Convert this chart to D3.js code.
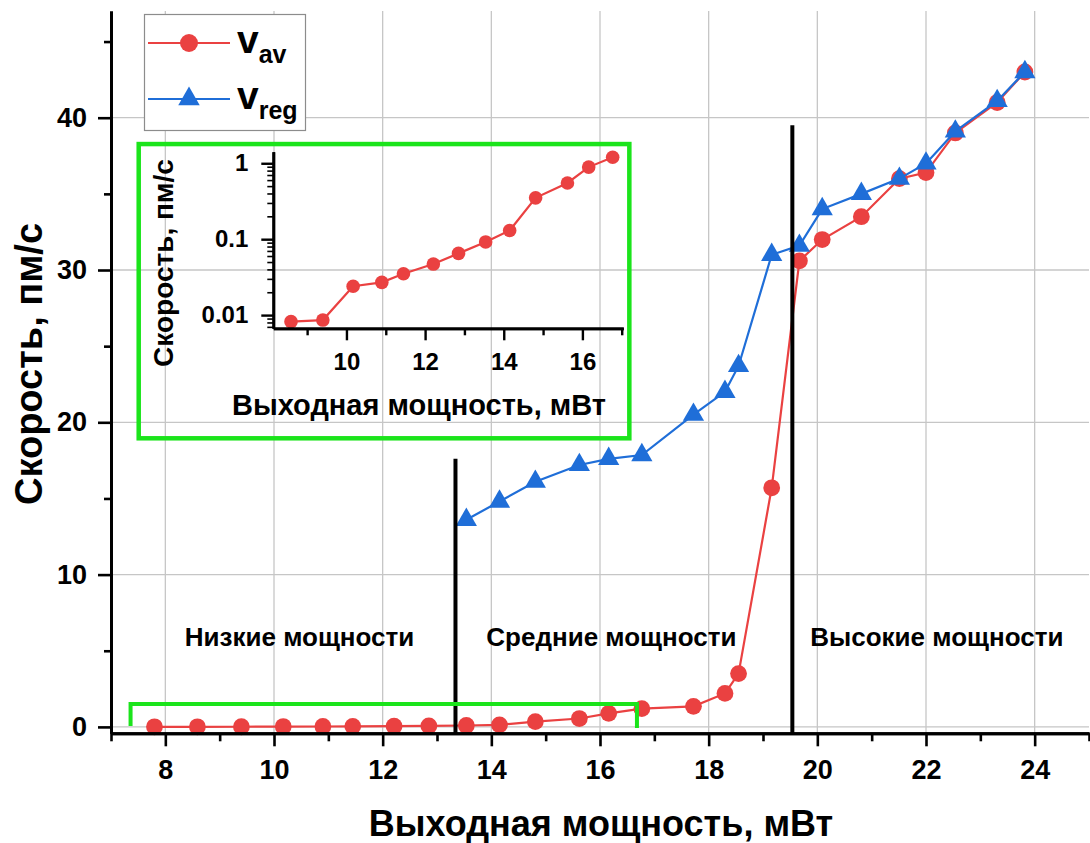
<!DOCTYPE html>
<html>
<head>
<meta charset="utf-8">
<script src="https://cdn.jsdelivr.net/npm/d3@7/dist/d3.min.js"></script>
<style>
  body { margin: 0; background: #fff; }
  svg { display: block; }
  text { font-family: "Liberation Sans", Arial, Helvetica, sans-serif; font-weight: bold; fill: #000; }
</style>
</head>
<body>
<svg id="chart" width="1090" height="843"></svg>
<script>
// ---- data ----------------------------------------------------------------
// average velocity v_av (pm/s) versus output power (mW)
const powerAv = [7.80, 8.59, 9.40, 10.17, 10.90, 11.45, 12.21, 12.85, 13.54, 14.15, 14.81, 15.62, 16.16, 16.77,
                 17.72, 18.30, 18.55, 19.16, 19.67, 20.09, 20.81, 21.51, 22.00, 22.54, 23.31, 23.82];
const vAv     = [0.006, 0.0082, 0.0086, 0.024, 0.027, 0.035, 0.047, 0.065, 0.092, 0.13, 0.35, 0.55, 0.89, 1.20,
                 1.35, 2.2, 3.5, 15.7, 30.6, 32.0, 33.5, 36.0, 36.4, 39.0, 41.0, 43.0];
// regular-motion velocity v_reg (pm/s)
const powerReg = [13.54, 14.15, 14.81, 15.62, 16.16, 16.77, 17.72, 18.30, 18.55, 19.16, 19.67, 20.09, 20.81,
                  21.51, 22.00, 22.54, 23.31, 23.82];
const vReg     = [13.6, 14.8, 16.1, 17.2, 17.6, 17.85, 20.5, 22.0, 23.7, 31.0, 31.6, 34.0, 35.0,
                  36.0, 37.0, 39.1, 41.1, 43.0];

// power-regime boundaries (mW) and where each marker line ends (pm/s)
const regimeBounds = [13.34, 19.54];
const boundTops    = [17.6, 39.5];
const regimeNames  = ["Низкие мощности", "Средние мощности", "Высокие мощности"];

// ticks
const xMajor = [8, 10, 12, 14, 16, 18, 20, 22, 24];
const xMinor = [7, 9, 11, 13, 15, 17, 19, 21, 23, 25];
const yMajor = [0, 10, 20, 30, 40];
const yMinor = [5, 15, 25, 35, 45];
const insetXMajor = [10, 12, 14, 16];
const insetXMinor = [9, 11, 13, 15, 17];
const insetYMajor = [0.01, 0.1, 1];
const insetYMinor = [0.007, 0.008, 0.009,
                     0.02, 0.03, 0.04, 0.05, 0.06, 0.07, 0.08, 0.09,
                     0.2, 0.3, 0.4, 0.5, 0.6, 0.7, 0.8, 0.9];
// points 1..13 of v_av are replotted on a log scale in the inset
const insetRange = [1, 14];

const xTitle = "Выходная мощность, мВт";
const yTitle = "Скорость, пм/с";

// ---- styling ---------------------------------------------------------------
const RED = "#ea4141", BLUE = "#1f6ed8", GREEN = "#1be41b", GRID = "#c6c6c6";

const svg = d3.select("#chart");

const x = d3.scaleLinear().domain([7, 25]).range([111, 1089]);
const y = d3.scaleLinear().domain([-0.42, 47]).range([733.3, 11.1]);

// ---- grid ----------------------------------------------------------------
const grid = svg.append("g").attr("stroke", GRID).attr("stroke-width", 1.3);
grid.selectAll("line.v").data(xMajor).join("line")
  .attr("x1", d => x(d)).attr("x2", d => x(d))
  .attr("y1", y.range()[1]).attr("y2", y.range()[0]);
grid.selectAll("line.h").data(yMajor).join("line")
  .attr("y1", d => y(d)).attr("y2", d => y(d))
  .attr("x1", x.range()[0]).attr("x2", x.range()[1]);

// ---- series ----------------------------------------------------------------
const avData  = powerAv.map((p, i) => ({ p, v: vAv[i] }));
const regData = powerReg.map((p, i) => ({ p, v: vReg[i] }));

const line = d3.line().x(d => x(d.p)).y(d => y(d.v));

svg.append("path").datum(avData)
  .attr("d", line).attr("fill", "none").attr("stroke", RED).attr("stroke-width", 2.2);
svg.append("g").selectAll("circle").data(avData).join("circle")
  .attr("cx", d => x(d.p)).attr("cy", d => y(d.v)).attr("r", 8.4).attr("fill", RED);

const tri = d3.symbol().type(d3.symbolTriangle).size(195);
svg.append("path").datum(regData)
  .attr("d", line).attr("fill", "none").attr("stroke", BLUE).attr("stroke-width", 2.2);
svg.append("g").selectAll("path").data(regData).join("path")
  .attr("transform", d => `translate(${x(d.p)},${y(d.v)})`)
  .attr("d", tri).attr("fill", BLUE);

// ---- regime boundaries -----------------------------------------------------
svg.append("g").selectAll("line").data(regimeBounds).join("line")
  .attr("x1", d => x(d)).attr("x2", d => x(d))
  .attr("y1", (d, i) => y(boundTops[i])).attr("y2", y.range()[0])
  .attr("stroke", "#000").attr("stroke-width", 4);

// region captions, centred in power units
const captionX = [10.47, 16.21, 22.2];
svg.append("g").selectAll("text").data(regimeNames).join("text")
  .attr("x", (d, i) => x(captionX[i])).attr("y", 646)
  .attr("text-anchor", "middle").attr("font-size", 26)
  .text(d => d);

// ---- highlight frames -------------------------------------------------------
// small bracket around the low-velocity points
const bx0 = x(7.36), bx1 = x(16.68), by0 = y(1.5), by1 = y(0);
svg.append("path")
  .attr("d", `M${bx0},${by1 - 1}V${by0}H${bx1}V${by1 + 1}`)
  .attr("fill", "none").attr("stroke", GREEN).attr("stroke-width", 4);
// frame of the inset
svg.append("rect")
  .attr("x", x(7.51)).attr("y", y(38.27))
  .attr("width", x(16.54) - x(7.51)).attr("height", y(18.95) - y(38.27))
  .attr("fill", "none").attr("stroke", GREEN).attr("stroke-width", 4.5);

// ---- main axes -------------------------------------------------------------
function styleAxis(g, tickWidth) {
  g.select(".domain").attr("stroke", "#000").attr("stroke-width", 3);
  g.selectAll(".tick line").attr("stroke", "#000").attr("stroke-width", tickWidth);
}

const gx = svg.append("g").attr("transform", `translate(0,${y.range()[0]})`);
gx.call(d3.axisBottom(x).tickValues(xMajor).tickSize(13).tickSizeOuter(0).tickPadding(14)
  .tickFormat(d3.format("d")));
gx.selectAll("text").attr("font-size", 27).attr("font-family", null);
styleAxis(gx, 2.6);
const gxm = svg.append("g").attr("transform", `translate(0,${y.range()[0]})`);
gxm.call(d3.axisBottom(x).tickValues(xMinor).tickSize(8).tickSizeOuter(0).tickFormat(""));
styleAxis(gxm, 2.6);

const gy = svg.append("g").attr("transform", `translate(${x.range()[0]},0)`);
gy.call(d3.axisLeft(y).tickValues(yMajor).tickSize(13).tickSizeOuter(0).tickPadding(11)
  .tickFormat(d3.format("d")));
gy.selectAll("text").attr("font-size", 27).attr("font-family", null);
styleAxis(gy, 2.6);
const gym = svg.append("g").attr("transform", `translate(${x.range()[0]},0)`);
gym.call(d3.axisLeft(y).tickValues(yMinor).tickSize(7).tickSizeOuter(0).tickFormat(""));
styleAxis(gym, 2.6);

svg.append("text").attr("x", 601).attr("y", 836).attr("text-anchor", "middle")
  .attr("font-size", 36).text(xTitle);
svg.append("text").attr("transform", "translate(42,364) rotate(-90)")
  .attr("text-anchor", "middle").attr("font-size", 38).text(yTitle);

// ---- legend ----------------------------------------------------------------
const lg = svg.append("g");
lg.append("rect").attr("x", 144.5).attr("y", 14.5).attr("width", 161).attr("height", 116)
  .attr("fill", "#fff").attr("stroke", "#8c8c8c").attr("stroke-width", 1.2);
const legendItems = [
  { color: RED,  shape: "circle",   sub: "av",  cy: 43 },
  { color: BLUE, shape: "triangle", sub: "reg", cy: 99 }
];
legendItems.forEach(it => {
  lg.append("line").attr("x1", 148).attr("x2", 230).attr("y1", it.cy).attr("y2", it.cy)
    .attr("stroke", it.color).attr("stroke-width", 2.2);
  if (it.shape === "circle") {
    lg.append("circle").attr("cx", 189).attr("cy", it.cy).attr("r", 9).attr("fill", it.color);
  } else {
    lg.append("path").attr("transform", `translate(189,${it.cy})`)
      .attr("d", d3.symbol().type(d3.symbolTriangle).size(200)).attr("fill", it.color);
  }
  const t = lg.append("text").attr("x", 237).attr("y", it.cy + 10).attr("font-size", 39);
  t.append("tspan").text("v");
  t.append("tspan").attr("font-size", 25).attr("dy", 10).text(it.sub);
});

// ---- inset: v_av on a logarithmic axis ------------------------------------
const ix = d3.scaleLinear().domain([8.14, 17.04]).range([273.3, 623.3]);
const iy = d3.scaleLog().domain([0.0067, 1.42]).range([328.3, 151.7]);
const inset = svg.append("g");
const insetData = avData.slice(insetRange[0], insetRange[1]);

inset.append("path").datum(insetData)
  .attr("d", d3.line().x(d => ix(d.p)).y(d => iy(d.v)))
  .attr("fill", "none").attr("stroke", RED).attr("stroke-width", 2.2);
inset.append("g").selectAll("circle").data(insetData).join("circle")
  .attr("cx", d => ix(d.p)).attr("cy", d => iy(d.v)).attr("r", 6.8).attr("fill", RED);

const igx = inset.append("g").attr("transform", `translate(0,${iy.range()[0]})`);
igx.call(d3.axisBottom(ix).tickValues(insetXMajor).tickSize(12).tickSizeOuter(0).tickPadding(13)
  .tickFormat(d3.format("d")));
igx.selectAll("text").attr("font-size", 24).attr("font-family", null);
styleAxis(igx, 2.4);
igx.select(".domain").attr("stroke-width", 2.8);
const igxm = inset.append("g").attr("transform", `translate(0,${iy.range()[0]})`);
igxm.call(d3.axisBottom(ix).tickValues(insetXMinor).tickSize(7).tickSizeOuter(0).tickFormat(""));
styleAxis(igxm, 2.4);
igxm.select(".domain").attr("stroke-width", 2.8);

const igy = inset.append("g").attr("transform", `translate(${ix.range()[0]},0)`);
igy.call(d3.axisLeft(iy).tickValues(insetYMajor).tickSize(12).tickSizeOuter(0).tickPadding(13)
  .tickFormat(d => d3.format("~g")(d)));
igy.selectAll("text").attr("font-size", 24).attr("font-family", null);
styleAxis(igy, 2.4);
igy.select(".domain").attr("stroke-width", 2.8);
const igym = inset.append("g").attr("transform", `translate(${ix.range()[0]},0)`);
igym.call(d3.axisLeft(iy).tickValues(insetYMinor).tickSize(6).tickSizeOuter(0).tickFormat(""));
styleAxis(igym, 1.6);
igym.select(".domain").attr("stroke-width", 2.8);

inset.append("text").attr("x", 419).attr("y", 415).attr("text-anchor", "middle")
  .attr("font-size", 29).text(xTitle);
inset.append("text").attr("transform", "translate(173,263) rotate(-90)")
  .attr("text-anchor", "middle").attr("font-size", 28).text(yTitle);
</script>
</body>
</html>
